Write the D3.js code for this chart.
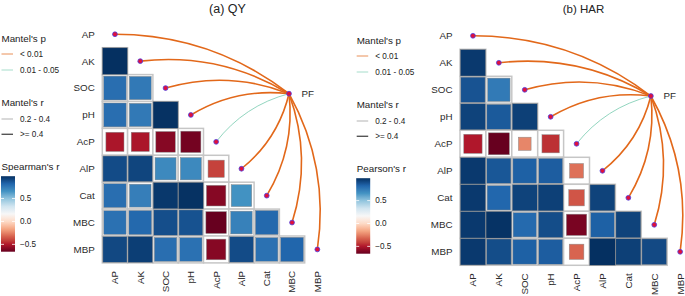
<!DOCTYPE html>
<html>
<head>
<meta charset="utf-8">
<script src="https://cdn.jsdelivr.net/npm/d3@7"></script>
<style>
  body { margin: 0; background: #fff; }
  svg { font-family: "Liberation Sans", Arial, sans-serif; }
</style>
</head>
<body>
<svg id="chart" width="685" height="296"></svg>
<script>
// variables on both axes
const vars = ["AP", "AK", "SOC", "pH", "AcP", "AlP", "Cat", "MBC", "MBP"];

// lower triangle, row i holds correlations with vars[0..i-1]
const qyR = [
  [],
  [0.985],
  [0.79, 0.75],
  [0.79, 0.75, 0.98],
  [-0.51, -0.51, -0.59, -0.63],
  [0.90, 0.92, 0.69, 0.69, -0.41],
  [0.79, 0.73, 0.96, 0.98, -0.59, 0.66],
  [0.78, 0.81, 0.89, 0.88, -0.66, 0.72, 0.81],
  [0.91, 0.94, 0.79, 0.78, -0.59, 0.90, 0.78, 0.82]
];
const harR = [
  [],
  [0.96],
  [0.88, 0.75],
  [0.93, 0.86, 0.94],
  [-0.50, -0.66, -0.24, -0.45],
  [0.96, 0.87, 0.84, 0.85, -0.29],
  [0.96, 0.82, 0.93, 0.94, -0.36, 0.93],
  [0.96, 0.98, 0.81, 0.90, -0.62, 0.84, 0.93],
  [0.96, 0.90, 0.84, 0.85, -0.32, 0.99, 0.94, 0.91]
];

// Mantel test PF vs each variable
const qyMantelP = ["< 0.01", "< 0.01", "< 0.01", "< 0.01", "0.01 - 0.05", "< 0.01", "< 0.01", "< 0.01", "< 0.01"];
const qyMantelR = [">= 0.4", ">= 0.4", ">= 0.4", ">= 0.4", "0.2 - 0.4", ">= 0.4", ">= 0.4", ">= 0.4", ">= 0.4"];
const harMantelP = ["< 0.01", "< 0.01", "< 0.01", "< 0.01", "0.01 - 0.05", "< 0.01", "< 0.01", "< 0.01", "< 0.01"];
const harMantelR = [">= 0.4", ">= 0.4", ">= 0.4", ">= 0.4", "0.2 - 0.4", ">= 0.4", ">= 0.4", ">= 0.4", ">= 0.4"];

const pLevels = ["< 0.01", "0.01 - 0.05"];
const rLevels = ["0.2 - 0.4", ">= 0.4"];
const colorTicks = [0.5, 0.0, -0.5];

const rdbu = ["#67001F", "#B2182B", "#D6604D", "#F4A582", "#FDDBC7", "#F7F7F7",
              "#D1E5F0", "#92C5DE", "#4393C3", "#2166AC", "#053061"];

const pColor = d3.scaleOrdinal().domain(pLevels).range(["#E2681A", "#86D0B8"]);
const rWidth = d3.scaleOrdinal().domain(rLevels).range([0.9, 1.6]);

const svg = d3.select("#chart");

const drawPanel = (cfg) => {
  const g = svg.append("g");
  const cells = [];
  cfg.r.forEach((row, i) => row.forEach((v, j) => cells.push({ row: vars[i], col: vars[j], r: v })));
  const ext = d3.extent(cells, d => d.r);

  const fill = d3.scaleLinear()
    .domain(d3.range(11).map(k => ext[0] + k * (ext[1] - ext[0]) / 10))
    .range(rdbu)
    .interpolate(d3.interpolateLab);

  const x = d3.scaleBand().domain(vars).range([cfg.x0, cfg.x0 + 9 * cfg.cw]);
  const y = d3.scaleBand().domain(vars).range([cfg.y0, cfg.y0 + 9 * cfg.ch]);
  const gx = d3.scaleLinear().domain([0, 9]).range([cfg.x0, cfg.x0 + 9 * cfg.cw]);
  const gy = d3.scaleLinear().domain([0, 9]).range([cfg.y0, cfg.y0 + 9 * cfg.ch]);
  const side = d3.scaleSqrt().domain([0, 1]).range([0, 1]).clamp(true);

  // title
  g.append("text")
    .attr("x", cfg.titleX).attr("y", 12.5)
    .attr("text-anchor", "middle")
    .style("font-size", cfg.titleSize).style("fill", "#222")
    .text(cfg.title);

  // grid frames
  g.selectAll(".frame").data(cells).enter().append("rect")
    .attr("x", d => x(d.col)).attr("y", d => y(d.row))
    .attr("width", x.bandwidth()).attr("height", y.bandwidth())
    .attr("fill", "#fff").attr("stroke", "#c6c6c6").attr("stroke-width", 1.5);

  // squares
  g.selectAll(".sq").data(cells).enter().append("rect")
    .attr("x", d => x(d.col) + x.bandwidth() * (1 - side(Math.abs(d.r))) / 2)
    .attr("y", d => y(d.row) + y.bandwidth() * (1 - side(Math.abs(d.r))) / 2)
    .attr("width", d => x.bandwidth() * side(Math.abs(d.r)))
    .attr("height", d => y.bandwidth() * side(Math.abs(d.r)))
    .attr("fill", d => fill(d.r))
    .attr("stroke", "#8a8a8a").attr("stroke-width", 0.5);

  // axis labels
  g.selectAll(".ylab").data(vars).enter().append("text")
    .attr("x", cfg.x0 - 7.5).attr("y", d => y(d) + y.bandwidth() / 2)
    .attr("dy", "0.35em").attr("text-anchor", "end")
    .style("font-size", "9.8px").style("fill", "#2b2b2b")
    .text(d => d);
  g.selectAll(".xlab").data(vars).enter().append("text")
    .attr("transform", d => `translate(${x(d) + x.bandwidth() / 2}, ${cfg.y0 + 9 * cfg.ch + 8}) rotate(-90)`)
    .attr("dy", "0.35em").attr("text-anchor", "end")
    .style("font-size", "9.8px").style("fill", "#2b2b2b")
    .text(d => d);

  // mantel links
  const pf = [gx(cfg.pf[0]), gy(cfg.pf[1])];
  const links = vars.map((v, i) => ({ v, p: cfg.mp[i], r: cfg.mr[i],
    x: x(v) + x.bandwidth() / 2, y: y(v) + y.bandwidth() / 2 }));

  const curve = (d) => {
    const dx = d.x - pf[0], dy = d.y - pf[1];
    const L = Math.hypot(dx, dy);
    let nx = dy / L, ny = -dx / L;
    if (Math.abs(dx) >= Math.abs(dy)) { if (ny > 0) { nx = -nx; ny = -ny; } }
    else if (nx < 0) { nx = -nx; ny = -ny; }
    const k = 0.17 * L;
    const cx = (pf[0] + d.x) / 2 + nx * k, cy = (pf[1] + d.y) / 2 + ny * k;
    return `M${pf[0]},${pf[1]} Q${cx},${cy} ${d.x},${d.y}`;
  };

  g.selectAll(".link").data(links).enter().append("path")
    .attr("d", curve).attr("fill", "none")
    .attr("stroke", d => pColor(d.p))
    .attr("stroke-width", d => rWidth(d.r));

  g.selectAll(".node").data(links.concat([{ x: pf[0], y: pf[1] }])).enter().append("circle")
    .attr("cx", d => d.x).attr("cy", d => d.y).attr("r", 2.4)
    .attr("fill", "#E0103A").attr("stroke", "#4B3BE0").attr("stroke-width", 0.8);

  g.append("text").attr("x", pf[0] + 12.5).attr("y", pf[1])
    .attr("dy", "0.35em").style("font-size", "9.8px").style("fill", "#2b2b2b").text("PF");

  // legends
  const lg = g.append("g").attr("transform", `translate(${cfg.lx}, ${cfg.ly})`);
  const title = (t, yy) => lg.append("text").attr("x", 0).attr("y", yy).attr("dy", "0.35em")
    .style("font-size", "9.8px").style("fill", "#222").text(t);

  title("Mantel's p", 0);
  pLevels.forEach((lv, i) => {
    const yy = 15 + i * 16;
    lg.append("line").attr("x1", 0).attr("x2", 11.5).attr("y1", yy).attr("y2", yy)
      .attr("stroke", pColor(lv)).attr("stroke-width", 0.9).attr("opacity", 0.8);
    lg.append("text").attr("x", 18.5).attr("y", yy).attr("dy", "0.35em")
      .style("font-size", "8.2px").style("fill", "#222").text(lv);
  });

  title("Mantel's r", 63.5);
  rLevels.forEach((lv, i) => {
    const yy = 80 + i * 15.3;
    lg.append("line").attr("x1", 0).attr("x2", 11.5).attr("y1", yy).attr("y2", yy)
      .attr("stroke", i ? "#555" : "#aaa").attr("stroke-width", i ? 1.4 : 0.9);
    lg.append("text").attr("x", 18.5).attr("y", yy).attr("dy", "0.35em")
      .style("font-size", "8.2px").style("fill", "#222").text(lv);
  });

  title(cfg.corName, 128);

  const barTop = 137.2, barH = 75.5, barW = 14;
  const cy = d3.scaleLinear().domain(ext).range([barTop + barH, barTop]);
  const gid = "grad" + cfg.id;
  const grad = svg.append("defs").append("linearGradient").attr("id", gid)
    .attr("x1", 0).attr("x2", 0).attr("y1", 1).attr("y2", 0);
  d3.range(21).forEach(k => {
    const v = ext[0] + k * (ext[1] - ext[0]) / 20;
    grad.append("stop").attr("offset", k / 20).attr("stop-color", fill(v));
  });
  lg.append("rect").attr("x", -0.5).attr("y", barTop).attr("width", barW).attr("height", barH)
    .attr("fill", `url(#${gid})`);
  colorTicks.forEach(t => {
    lg.append("line").attr("x1", -0.5).attr("x2", 2.5).attr("y1", cy(t)).attr("y2", cy(t))
      .attr("stroke", "#fff").attr("stroke-width", 0.8);
    lg.append("line").attr("x1", barW - 3.5).attr("x2", barW - 0.5).attr("y1", cy(t)).attr("y2", cy(t))
      .attr("stroke", "#fff").attr("stroke-width", 0.8);
    lg.append("text").attr("x", barW + 4.5).attr("y", cy(t)).attr("dy", "0.35em")
      .style("font-size", "8.2px").style("fill", "#222").text(d3.format(".1f")(t));
  });
};

drawPanel({ id: "a", title: "(a) QY", titleX: 227.5, titleSize: "12.5px", corName: "Spearman's r",
  r: qyR, mp: qyMantelP, mr: qyMantelR,
  x0: 102.3, y0: 20.8, cw: 25.3, ch: 26.9, pf: [7.38, 2.71], lx: 1.5, ly: 39 });

drawPanel({ id: "b", title: "(b) HAR", titleX: 583.5, titleSize: "11.5px", corName: "Pearson's r",
  r: harR, mp: harMantelP, mr: harMantelR,
  x0: 460, y0: 22.3, cw: 25.9, ch: 27.0, pf: [7.37, 2.73], lx: 356.7, ly: 41 });
</script>
</body>
</html>
